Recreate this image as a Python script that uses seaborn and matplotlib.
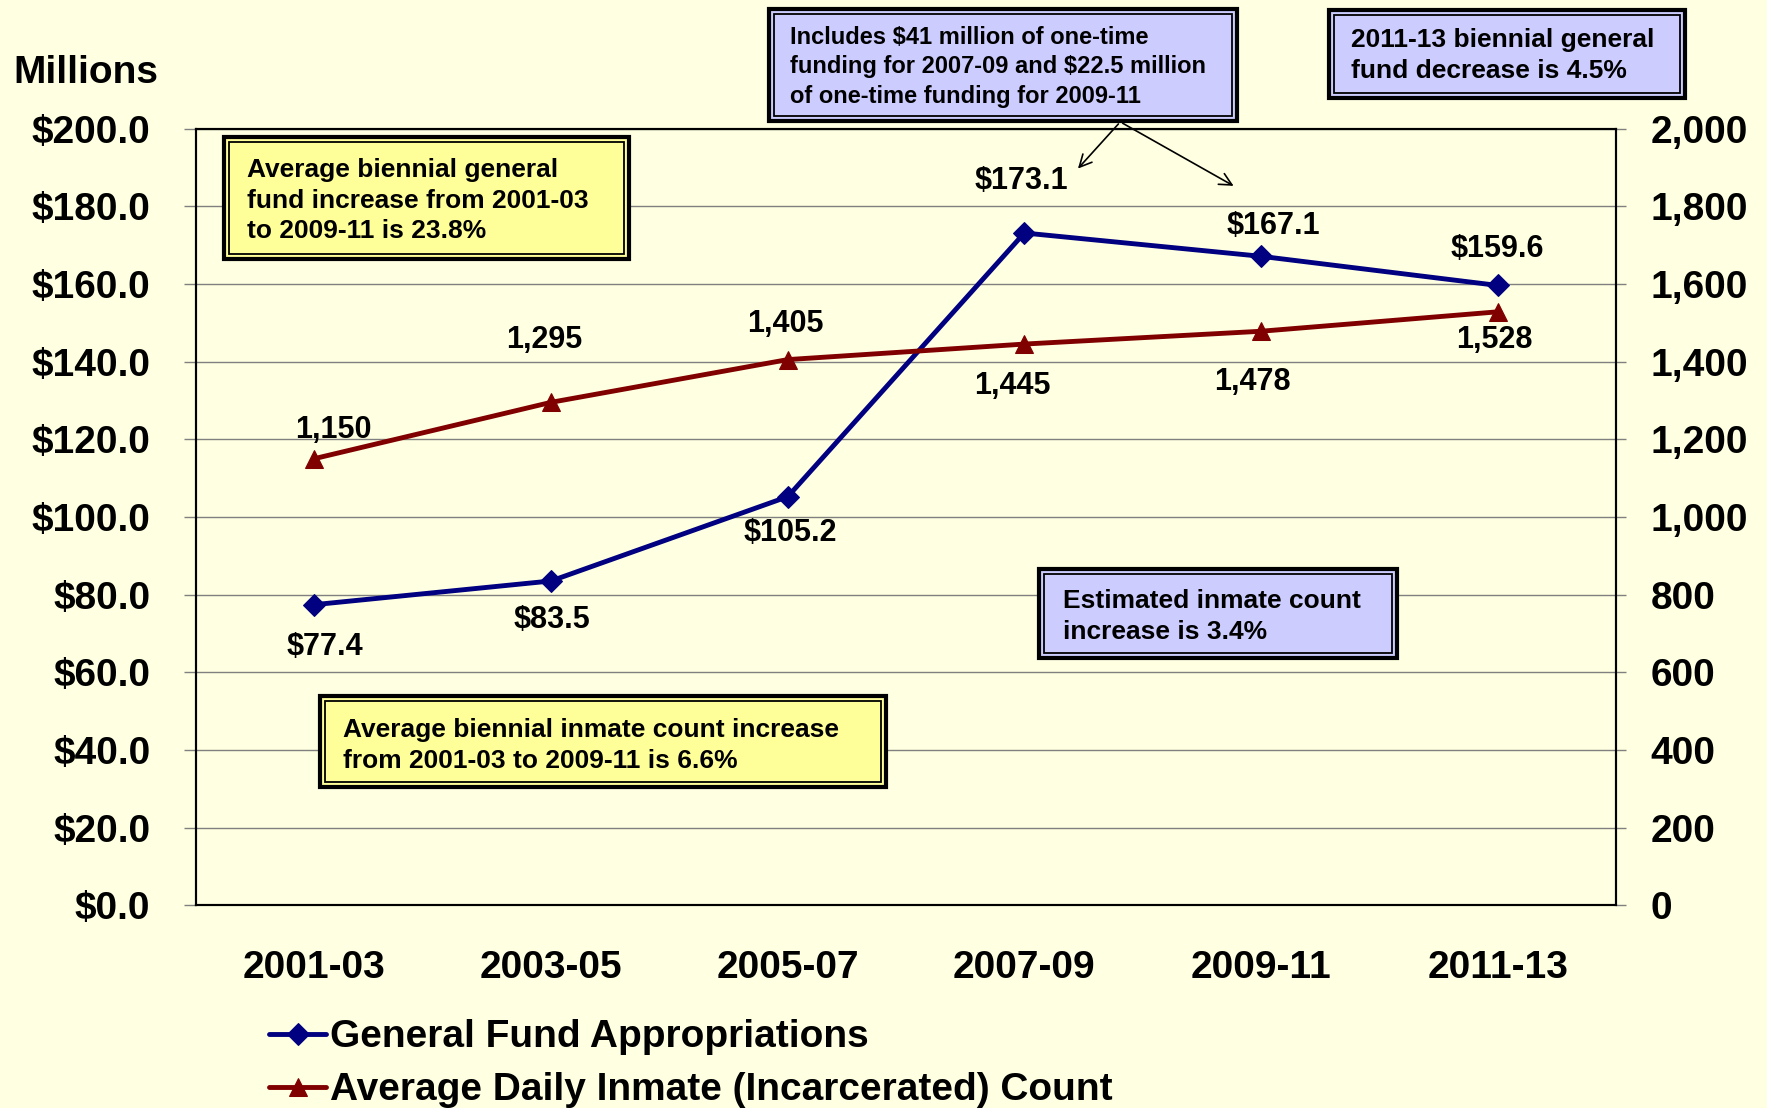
import numpy as np
import pandas as pd
import matplotlib
matplotlib.use("Agg")
import matplotlib.pyplot as plt
from matplotlib.patches import Rectangle, FancyArrowPatch
import seaborn as sns

# 数据
periods = ["2001-03", "2003-05", "2005-07", "2007-09", "2009-11", "2011-13"]
fund = [77.4, 83.5, 105.2, 173.1, 167.1, 159.6]
inmates = [1150, 1295, 1405, 1445, 1478, 1528]
fund_ticks = np.arange(0, 201, 20)
inmate_ticks = np.arange(0, 2001, 200)

# 标签偏移 (像素)
fund_off = [(10, -42), (1, -39), (3, -36), (-3, 52), (12, 30), (0, 36)]
inmate_off = [(19, 29), (-7, 62), (-2, 36), (-12, -42), (-9, -51), (-3, -28)]

bg = "#FFFFE1"
navy = "#000080"
maroon = "#800000"
W, H = 1767, 1108

sns.set_theme(style="white")
plt.rcParams["font.family"] = ["Liberation Sans", "DejaVu Sans"]
plt.rcParams["font.weight"] = "bold"
plt.rcParams["text.color"] = "black"

df = pd.DataFrame({"pos": np.arange(len(periods)), "period": periods,
                   "fund": fund, "inmates": inmates})

fig = plt.figure(figsize=(W / 100, H / 100), dpi=100, facecolor=bg)
ax = fig.add_axes([0.111, 0.183, 0.8035, 0.701])
ax.set_facecolor(bg)
ax2 = ax.twinx()

sns.lineplot(data=df, x="pos", y="fund", ax=ax, color=navy, lw=3.5,
             marker="D", markersize=11, markeredgecolor=navy,
             label="General Fund Appropriations", zorder=5)
sns.lineplot(data=df, x="pos", y="inmates", ax=ax2, color=maroon, lw=3.5,
             marker="^", markersize=13, markeredgecolor=maroon,
             label="Average Daily Inmate (Incarcerated) Count", zorder=5)
for a in (ax, ax2):
    if a.get_legend() is not None:
        a.get_legend().remove()

ax.set_xlim(-0.5, len(periods) - 0.5)
ax.set_ylim(0, 200)
ax2.set_ylim(0, 2000)
ax.set_yticks(fund_ticks)
ax.set_yticklabels([f"${v:.1f}" for v in fund_ticks], fontsize=28, fontweight="bold")
ax2.set_yticks(inmate_ticks)
ax2.set_yticklabels([f"{v:,}" for v in inmate_ticks], fontsize=28, fontweight="bold")
ax.set_xticks(df["pos"])
ax.set_xticklabels(periods, fontsize=28, fontweight="bold")
ax.set_xticks(np.arange(-0.5, len(periods)), minor=True)
ax.tick_params(axis="x", which="major", length=0, pad=32, labelcolor="black")
ax.tick_params(axis="x", which="minor", length=7, width=1, color="#808080", direction="out")
ax.tick_params(axis="y", length=9, width=1, color="#808080", direction="out", pad=24,
               left=True, labelcolor="black")
ax2.tick_params(axis="y", length=7, width=1, color="#808080", direction="out", pad=18,
                right=True, labelcolor="black")
ax.set_xlabel("")
ax.set_ylabel("")
ax2.set_ylabel("")

ax.yaxis.grid(True, color="#808080", lw=1)
ax.set_axisbelow(True)
for a in (ax, ax2):
    for s in a.spines.values():
        s.set_color("black")
        s.set_linewidth(1.5)

for i, v in enumerate(fund):
    ax.annotate(f"${v:.1f}", (i, v), xytext=fund_off[i], textcoords="offset pixels",
                ha="center", va="center", fontsize=22, fontweight="bold")
for i, v in enumerate(inmates):
    ax2.annotate(f"{v:,}", (i, v), xytext=inmate_off[i], textcoords="offset pixels",
                 ha="center", va="center", fontsize=22, fontweight="bold")

fig.text(0.0076, 0.934, "Millions", fontsize=28, fontweight="bold", ha="left", va="center")


def box(x0, y0, x1, y1, tx, ty, txt, fc, fs):
    # 双线边框，像素坐标（从上往下）
    fig.add_artist(Rectangle((x0 / W, 1 - y1 / H), (x1 - x0) / W, (y1 - y0) / H,
                             transform=fig.transFigure, fc=fc, ec="black", lw=3, zorder=10))
    d = 5
    fig.add_artist(Rectangle(((x0 + d) / W, 1 - (y1 - d) / H), (x1 - x0 - 2 * d) / W,
                             (y1 - y0 - 2 * d) / H, transform=fig.transFigure,
                             fc="none", ec="black", lw=1.3, zorder=10))
    fig.text(tx / W, 1 - ty / H, txt, fontsize=fs, fontweight="bold", ha="left", va="top",
             linespacing=1.35, zorder=11)


yellow = "#FFFF99"
lilac = "#CCCCFF"
box(224, 137, 629, 259, 247, 158,
    "Average biennial general\nfund increase from 2001-03\nto 2009-11 is 23.8%", yellow, 19)
box(769, 9, 1237, 121, 790, 26,
    "Includes $41 million of one-time\nfunding for 2007-09 and $22.5 million\nof one-time funding for 2009-11", lilac, 17)
box(1329, 10, 1685, 98, 1351, 28,
    "2011-13 biennial general\nfund decrease is 4.5%", lilac, 19)
box(1039, 569, 1397, 658, 1063, 589,
    "Estimated inmate count\nincrease is 3.4%", lilac, 19)
box(320, 696, 886, 787, 343, 718,
    "Average biennial inmate count increase\nfrom 2001-03 to 2009-11 is 6.6%", yellow, 19)

arrow = dict(arrowstyle="->", color="black", lw=1.2, mutation_scale=22)
fig.add_artist(FancyArrowPatch((0.634, 0.890), (0.609, 0.846),
               transform=fig.transFigure, **arrow))
fig.add_artist(FancyArrowPatch((0.634, 0.890), (0.6995, 0.831),
               transform=fig.transFigure, **arrow))

handles = ax.get_lines()[:1] + ax2.get_lines()[:1]
labels = ["General Fund Appropriations", "Average Daily Inmate (Incarcerated) Count"]
fig.legend(handles, labels, loc="upper left", bbox_to_anchor=(0.1525, 0.080),
           frameon=False, handlelength=1.45, handletextpad=0.1,
           borderpad=0, borderaxespad=0, labelspacing=0.435,
           prop={"weight": "bold", "size": 28})

fig.savefig("out.png", dpi=100, facecolor=bg)
